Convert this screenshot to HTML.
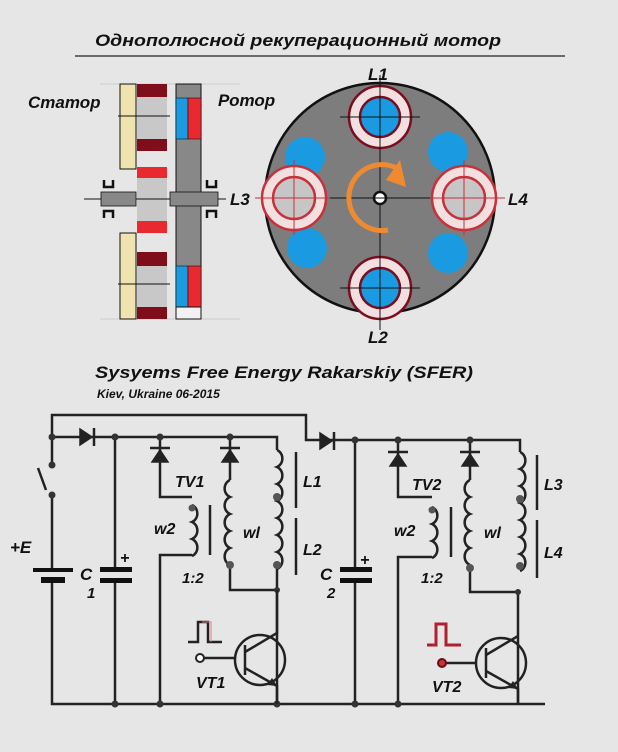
<!DOCTYPE html>
<html><head><meta charset="utf-8"><style>
html,body{margin:0;padding:0;background:#e6e6e6;}
svg{display:block;}
text{font-family:"Liberation Sans","DejaVu Sans",sans-serif;font-weight:bold;font-style:italic;}
</style></head><body>
<svg width="618" height="752" viewBox="0 0 618 752" xmlns="http://www.w3.org/2000/svg">
<rect width="618" height="752" fill="#e6e6e6"/>
<text x="298" y="46" font-size="17" text-anchor="middle" fill="#111" textLength="406" lengthAdjust="spacingAndGlyphs">Однополюсной рекуперационный мотор</text>
<line x1="75" y1="56" x2="565" y2="56" stroke="#222" stroke-width="1.2"/>
<!-- faint guide lines -->
<g stroke="#ccc" stroke-width="1">
<line x1="100" y1="84" x2="240" y2="84"/><line x1="100" y1="319" x2="240" y2="319"/>
</g>
<text x="28" y="108" font-size="17" fill="#111">Статор</text>
<text x="218" y="106" font-size="17" fill="#111">Ротор</text>
<!-- stator -->
<rect x="120" y="84" width="16" height="85" fill="#efe3b0" stroke="#111"/>
<rect x="120" y="233" width="16" height="86" fill="#efe3b0" stroke="#111"/>
<rect x="137" y="84" width="30" height="67" fill="#c8c8c8"/>
<rect x="137" y="84" width="30" height="13" fill="#800d1a"/>
<rect x="137" y="139" width="30" height="12" fill="#800d1a"/>
<rect x="137" y="167" width="30" height="66" fill="#c8c8c8"/>
<rect x="137" y="167" width="30" height="11" fill="#e82a30"/>
<rect x="137" y="221" width="30" height="12" fill="#e82a30"/>
<rect x="137" y="252" width="30" height="67" fill="#c8c8c8"/>
<rect x="137" y="252" width="30" height="14" fill="#800d1a"/>
<rect x="137" y="307" width="30" height="12" fill="#800d1a"/>
<!-- rotor -->
<rect x="176" y="84" width="25" height="235" fill="#888" stroke="#111"/>
<rect x="176" y="98" width="12" height="41" fill="#1a9ae0" stroke="#111" stroke-width=".6"/>
<rect x="188" y="98" width="13" height="41" fill="#e82a30" stroke="#111" stroke-width=".6"/>
<rect x="176" y="266" width="12" height="41" fill="#1a9ae0" stroke="#111" stroke-width=".6"/>
<rect x="188" y="266" width="13" height="41" fill="#e82a30" stroke="#111" stroke-width=".6"/>
<rect x="176" y="307" width="25" height="12" fill="#f2f2f2" stroke="#111"/>
<!-- shaft -->
<line x1="84" y1="199" x2="226" y2="199" stroke="#111"/>
<line x1="118" y1="116" x2="170" y2="116" stroke="#111"/>
<line x1="118" y1="284" x2="170" y2="284" stroke="#111"/>
<rect x="101" y="192" width="35" height="14" fill="#888" stroke="#111" stroke-width=".8"/>
<rect x="170" y="192" width="48" height="14" fill="#888" stroke="#111" stroke-width=".8"/>
<g fill="none" stroke="#111" stroke-width="2.5">
<path d="M104 180v7h9v-7"/><path d="M104 218v-7h9v7"/>
<path d="M207 180v7h9v-7"/><path d="M207 218v-7h9v7"/>
</g>
<!-- disk -->
<circle cx="380" cy="198" r="115" fill="#7d7d7d" stroke="#111" stroke-width="2.5"/>
<g fill="#1a9ae0">
<circle cx="305" cy="157" r="20"/><circle cx="448" cy="152" r="20"/>
<circle cx="307" cy="248" r="20"/><circle cx="448" cy="253" r="20"/>
</g>
<g stroke="#7a0d20" stroke-width="2.5">
<circle cx="380" cy="117" r="31" fill="#f2e0e0"/><circle cx="380" cy="117" r="20" fill="#1a9ae0"/>
<circle cx="380" cy="288" r="31" fill="#f2e0e0"/><circle cx="380" cy="288" r="20" fill="#1a9ae0"/>
</g>
<g stroke="#c8303a" stroke-width="2.5">
<circle cx="294" cy="198" r="32" fill="#f2e0e0"/><circle cx="294" cy="198" r="21" fill="#c6c6c6"/>
<circle cx="464" cy="198" r="32" fill="#f2e0e0"/><circle cx="464" cy="198" r="21" fill="#c6c6c6"/>
</g>
<g stroke="#111" stroke-width="1">
<line x1="380" y1="75" x2="380" y2="330"/>
<line x1="340" y1="117" x2="420" y2="117"/><line x1="340" y1="288" x2="420" y2="288"/>
<line x1="330" y1="198" x2="430" y2="198"/>
</g>
<g stroke="#c8303a" stroke-width="1">
<line x1="255" y1="198" x2="330" y2="198"/><line x1="430" y1="198" x2="505" y2="198"/>
<line x1="294" y1="160" x2="294" y2="235"/><line x1="464" y1="160" x2="464" y2="235"/>
</g>
<path d="M388 230 A33 33 0 1 1 400 170" fill="none" stroke="#f08a30" stroke-width="5"/>
<path d="M400 160 L406 187 L386 180 Z" fill="#f08a30"/>
<circle cx="380" cy="198" r="6" fill="#fff" stroke="#111" stroke-width="2.5"/>
<line x1="374" y1="198" x2="386" y2="198" stroke="#111"/>
<text x="368" y="80" font-size="17" fill="#111">L1</text>
<text x="368" y="343" font-size="17" fill="#111">L2</text>
<text x="230" y="205" font-size="17" fill="#111">L3</text>
<text x="508" y="205" font-size="17" fill="#111">L4</text>
<text x="95" y="378" font-size="17" fill="#111" textLength="378" lengthAdjust="spacingAndGlyphs">Sysyems Free Energy Rakarskiy (SFER)</text>
<text x="97" y="398" font-size="12" fill="#111">Kiev, Ukraine 06-2015</text>

<!-- circuit -->
<g fill="none" stroke="#222" stroke-width="2.5">
<!-- left -->
<path d="M52 437V415H306V440H310"/>
<path d="M52 437H277V450"/>
<path d="M52 437V465"/><path d="M52 495V568"/><path d="M52 580V704H545"/>
<path d="M38 468L46 490"/>
<path d="M115 437V568"/><path d="M115 580V704"/>
<path d="M160 437V497H192"/><path d="M192 555H160V704"/>
<path d="M230 437V480"/><path d="M230 565V590H277"/>
<path d="M277 565V704"/>
<path d="M200 658H235"/>
<!-- right -->
<path d="M310 440H520V452"/>
<path d="M355 440V568"/><path d="M355 580V704"/>
<path d="M398 440V497H432"/><path d="M432 557H398V704"/>
<path d="M470 440V480"/><path d="M470 565V592H518V704"/>
<path d="M442 663H477"/>
</g>
<!-- battery, caps -->
<rect x="33" y="568" width="40" height="4" fill="#111"/><rect x="41" y="577" width="24" height="6" fill="#111"/>
<rect x="100" y="567" width="32" height="5" fill="#111"/><rect x="100" y="578" width="32" height="5" fill="#111"/>
<rect x="340" y="567" width="32" height="5" fill="#111"/><rect x="340" y="578" width="32" height="5" fill="#111"/>
<!-- diodes -->
<g fill="#222" stroke="#222" stroke-width="1.5">
<path d="M80 429L80 445L92 437Z"/><line x1="94" y1="428" x2="94" y2="446" stroke-width="2.5"/>
<path d="M320 433L320 449L332 441Z"/><line x1="334" y1="432" x2="334" y2="450" stroke-width="2.5"/>
<path d="M152 462H168L160 450Z"/><line x1="150" y1="448" x2="170" y2="448" stroke-width="2.5"/>
<path d="M222 462H238L230 450Z"/><line x1="220" y1="448" x2="240" y2="448" stroke-width="2.5"/>
<path d="M390 466H406L398 454Z"/><line x1="388" y1="452" x2="408" y2="452" stroke-width="2.5"/>
<path d="M462 466H478L470 454Z"/><line x1="460" y1="452" x2="480" y2="452" stroke-width="2.5"/>
</g>
<!-- coils -->
<g fill="none" stroke="#222" stroke-width="2.5">
<path d="M192 505a8 9 0 0 1 0 17a8 9 0 0 1 0 17a8 9 0 0 1 0 17"/>
<path d="M230 480a8 9 0 0 0 0 17a8 9 0 0 0 0 17a8 9 0 0 0 0 17a8 9 0 0 0 0 17a8 9 0 0 0 0 17"/>
<path d="M277 450a8 9 0 0 1 0 17a8 9 0 0 1 0 17a8 9 0 0 1 0 17a8 9 0 0 1 0 17a8 9 0 0 1 0 17a8 9 0 0 1 0 17a8 9 0 0 1 0 17"/>
<path d="M432 507a8 9 0 0 1 0 17a8 9 0 0 1 0 17a8 9 0 0 1 0 17"/>
<path d="M470 480a8 9 0 0 0 0 17a8 9 0 0 0 0 17a8 9 0 0 0 0 17a8 9 0 0 0 0 17a8 9 0 0 0 0 17"/>
<path d="M520 452a8 9 0 0 1 0 17a8 9 0 0 1 0 17a8 9 0 0 1 0 17a8 9 0 0 1 0 17a8 9 0 0 1 0 17a8 9 0 0 1 0 17a8 9 0 0 1 0 17"/>
<line x1="210" y1="505" x2="210" y2="555"/><line x1="451" y1="507" x2="451" y2="557"/>
<line x1="296" y1="452" x2="296" y2="508"/><line x1="296" y1="518" x2="296" y2="575"/>
<line x1="537" y1="455" x2="537" y2="510"/><line x1="537" y1="520" x2="537" y2="578"/>
</g>
<g fill="#555">
<circle cx="192" cy="508" r="3.5"/><circle cx="230" cy="565" r="4"/><circle cx="277" cy="497" r="4"/><circle cx="277" cy="565" r="4"/>
<circle cx="432" cy="510" r="3.5"/><circle cx="470" cy="568" r="4"/><circle cx="520" cy="499" r="4"/><circle cx="520" cy="566" r="4"/>
</g>
<!-- junction dots -->
<g fill="#333">
<circle cx="52" cy="437" r="3.5"/><circle cx="115" cy="437" r="3.5"/><circle cx="160" cy="437" r="3.5"/><circle cx="230" cy="437" r="3.5"/>
<circle cx="52" cy="465" r="3.5"/><circle cx="52" cy="495" r="3.5"/>
<circle cx="115" cy="704" r="3.5"/><circle cx="160" cy="704" r="3.5"/><circle cx="277" cy="704" r="3.5"/><circle cx="277" cy="590" r="3"/>
<circle cx="355" cy="440" r="3.5"/><circle cx="398" cy="440" r="3.5"/><circle cx="470" cy="440" r="3.5"/>
<circle cx="355" cy="704" r="3.5"/><circle cx="398" cy="704" r="3.5"/><circle cx="518" cy="592" r="3"/>
</g>
<!-- transistors -->
<g fill="none" stroke="#222" stroke-width="2.5">
<circle cx="260" cy="660" r="25"/><line x1="245" y1="645" x2="245" y2="675"/>
<path d="M245 652L277 633V590"/><path d="M245 668L277 686V704"/>
<circle cx="501" cy="663" r="25"/><line x1="486" y1="648" x2="486" y2="678"/>
<path d="M486 655L518 636"/><path d="M486 671L518 689V704"/>
</g>
<path d="M277 686l-10-1 5-7z" fill="#222"/><path d="M518 689l-10-1 5-7z" fill="#222"/>
<circle cx="200" cy="658" r="4" fill="#fff" stroke="#222" stroke-width="2"/>
<circle cx="442" cy="663" r="4" fill="#c8303a" stroke="#6a0d16" stroke-width="2"/>
<path d="M188 642H198V622H208V642H222" fill="none" stroke="#222" stroke-width="2.5"/>
<path d="M202 622H211V642" fill="none" stroke="#e08080" stroke-width="1"/>
<path d="M427 645H436V624H446V645H461" fill="none" stroke="#b02030" stroke-width="3"/>
<!-- labels -->
<g fill="#111">
<text x="10" y="553" font-size="17">+E</text>
<text x="80" y="580" font-size="17">C</text><text x="87" y="598" font-size="15">1</text>
<text x="320" y="580" font-size="17">C</text><text x="327" y="598" font-size="15">2</text>
<text x="120" y="563" font-size="16">+</text><text x="360" y="565" font-size="16">+</text>
<text x="175" y="487" font-size="16">TV1</text><text x="412" y="490" font-size="16">TV2</text>
<text x="154" y="534" font-size="16">w2</text><text x="394" y="536" font-size="16">w2</text>
<text x="243" y="538" font-size="16">wl</text><text x="484" y="538" font-size="16">wl</text>
<text x="182" y="583" font-size="15">1:2</text><text x="421" y="583" font-size="15">1:2</text>
<text x="196" y="688" font-size="16">VT1</text><text x="432" y="692" font-size="16">VT2</text>
<text x="303" y="487" font-size="16">L1</text><text x="303" y="555" font-size="16">L2</text>
<text x="544" y="490" font-size="16">L3</text><text x="544" y="558" font-size="16">L4</text>
</g>
</svg>
</body></html>
